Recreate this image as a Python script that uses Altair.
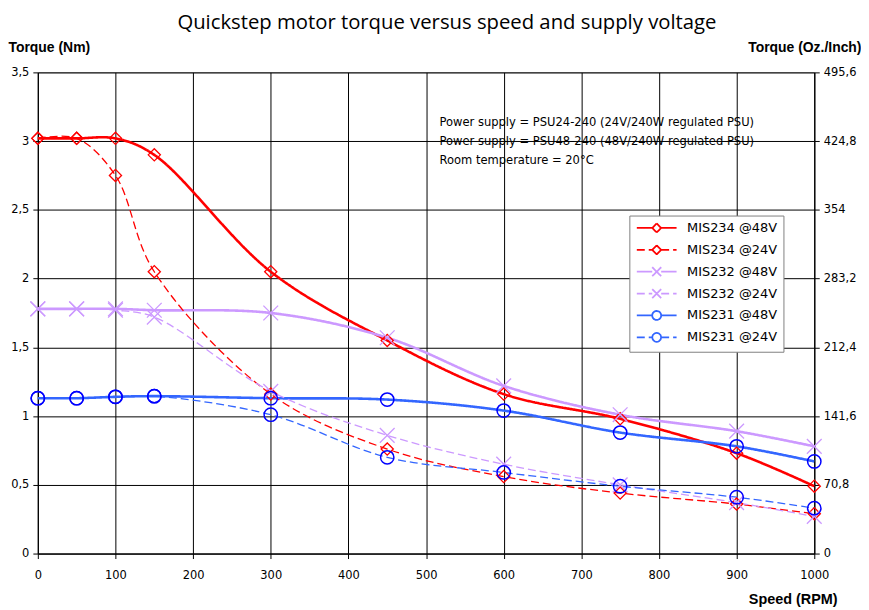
import altair as alt
import pandas as pd

# ---------------- data ----------------
RPM = [0, 50, 100, 150, 300, 450, 600, 750, 900, 1000]

MIS234_48V = [3.02, 3.02, 3.02, 2.90, 2.05, 1.55, 1.16, 0.98, 0.73, 0.49]
MIS234_24V = [3.02, 3.02, 2.75, 2.05, 1.16, 0.76, 0.56, 0.44, 0.36, 0.29]
MIS232_48V = [1.78, 1.78, 1.78, 1.77, 1.75, 1.57, 1.22, 1.01, 0.89, 0.78]
MIS232_24V = [1.78, 1.78, 1.77, 1.72, 1.18, 0.86, 0.65, 0.50, 0.37, 0.27]
MIS231_48V = [1.13, 1.13, 1.14, 1.145, 1.13, 1.12, 1.04, 0.88, 0.78, 0.67]
MIS231_24V = [1.13, 1.13, 1.14, 1.145, 1.01, 0.70, 0.59, 0.49, 0.41, 0.33]

SERIES = ["MIS234 @48V", "MIS234 @24V", "MIS232 @48V",
          "MIS232 @24V", "MIS231 @48V", "MIS231 @24V"]
SERIES_VALUES = [MIS234_48V, MIS234_24V, MIS232_48V,
                 MIS232_24V, MIS231_48V, MIS231_24V]
MOTORS = ["MIS234", "MIS234", "MIS232", "MIS232", "MIS231", "MIS231"]
VOLTAGES = ["48V", "24V", "48V", "24V", "48V", "24V"]

X_TICKS = [0, 100, 200, 300, 400, 500, 600, 700, 800, 900, 1000]
LEFT_TICKS = [0, 0.5, 1, 1.5, 2, 2.5, 3, 3.5]
RIGHT_TICKS = [0, 70.8, 141.6, 212.4, 283.2, 354, 424.8, 495.6]

ANNOTATION = [
    "Power supply = PSU24-240 (24V/240W regulated PSU)",
    "Power supply = PSU48-240 (48V/240W regulated PSU)",
    "Room temperature = 20°C",
]

TITLE = "Quickstep motor torque versus speed and supply voltage"

# ---------------- styles ----------------
LINE_COLORS = ["#FF0000", "#FF0000", "#CC99FF", "#CC99FF", "#3366FF", "#3366FF"]
DASHES = [[1, 0], [8, 4], [1, 0], [8, 4], [1, 0], [8, 4]]

# legend symbols: short line segment + marker (marker split in short sub-paths
# so that the dash pattern does not break it)
DIAMOND_L = ("M-1,0H2.1M3.9,0H7"
             "M3,-0.9L3.9,0M3.9,0L3,0.9M3,0.9L2.1,0M2.1,0L3,-0.9")
CROSS_L = ("M-1,0H2.1M3.9,0H7"
           "M3,0L3.9,-0.9M3,0L3.9,0.9M3,0L2.1,0.9M3,0L2.1,-0.9")
CIRCLE_L = ("M-1,0H2.1M3.9,0H7"
            "M3.9,0A0.9,0.9 0 0,1 3.45,0.779"
            "M3.45,0.779A0.9,0.9 0 0,1 2.55,0.779"
            "M2.55,0.779A0.9,0.9 0 0,1 2.1,0"
            "M2.1,0A0.9,0.9 0 0,1 2.55,-0.779"
            "M2.55,-0.779A0.9,0.9 0 0,1 3.45,-0.779"
            "M3.45,-0.779A0.9,0.9 0 0,1 3.9,0")
LEGEND_SHAPES = [DIAMOND_L, DIAMOND_L, CROSS_L, CROSS_L, CIRCLE_L, CIRCLE_L]
X_SHAPE = "M-1,-1L1,1M-1,1L1,-1"

TICK_FONT = "DejaVu Sans"
TITLE_FONT = "Liberation Sans"

rows = []
for name, motor, volt, vals in zip(SERIES, MOTORS, VOLTAGES, SERIES_VALUES):
    for r, v in zip(RPM, vals):
        rows.append({"series": name, "motor": motor, "volt": volt,
                     "rpm": r, "torque": v})
df = pd.DataFrame(rows)

legend_df = pd.DataFrame({"series": SERIES,
                          "rpm": [float("nan")] * len(SERIES),
                          "torque": [float("nan")] * len(SERIES)})

comma_expr = "replace(format(datum.value, '~f'), '.', ',')"

x_enc = alt.X(
    "rpm:Q",
    scale=alt.Scale(domain=[0, 1000], nice=False),
    axis=alt.Axis(values=X_TICKS, format="d", title="Speed (RPM)", grid=True,
                  gridColor="#000000", gridWidth=1, domainColor="#000000",
                  tickColor="#000000", tickSize=5, labelPadding=11,
                  labelFlush=False,
                  labelFont=TICK_FONT, labelFontSize=11.5, labelColor="#000000",
                  titleFont=TITLE_FONT, titleFontSize=14.5, titleFontWeight="bold",
                  titleColor="#000000", titleAlign="right", titleAnchor="end",
                  titleBaseline="middle", titleX=804, titleY=46),
)
y_enc = alt.Y(
    "torque:Q",
    scale=alt.Scale(domain=[0, 3.5], nice=False),
    axis=alt.Axis(values=LEFT_TICKS, labelExpr=comma_expr,
                  title="Torque (Nm)", grid=True, gridColor="#000000",
                  gridWidth=1, domainColor="#000000", tickColor="#000000",
                  tickSize=5, labelPadding=4, labelFlush=False,
                  labelFont=TICK_FONT,
                  labelFontSize=11.5, labelColor="#000000",
                  titleFont=TITLE_FONT, titleFontSize=14,
                  titleFontWeight="bold", titleColor="#000000", titleAngle=0,
                  titleAlign="left", titleBaseline="middle", titleX=-30,
                  titleY=-25),
)

color_scale = alt.Scale(domain=SERIES, range=LINE_COLORS)
dash_scale = alt.Scale(domain=SERIES, range=DASHES)
shape_scale = alt.Scale(domain=SERIES, range=LEGEND_SHAPES)


def leg():
    return alt.Legend(title=None)


base = alt.Chart(df)

solid_lines = base.transform_filter(alt.datum.volt == "48V").mark_line(
    interpolate="catmull-rom", strokeWidth=2.6
).encode(
    x=x_enc, y=y_enc,
    color=alt.Color("series:N", scale=color_scale, legend=leg()),
    strokeDash=alt.StrokeDash("series:N", scale=dash_scale, legend=leg()),
    order=alt.Order("rpm:Q"),
)

dashed_lines = base.transform_filter(alt.datum.volt == "24V").mark_line(
    interpolate="catmull-rom", strokeWidth=1.3
).encode(
    x=x_enc, y=y_enc,
    color=alt.Color("series:N", scale=color_scale, legend=leg()),
    strokeDash=alt.StrokeDash("series:N", scale=dash_scale, legend=leg()),
    order=alt.Order("rpm:Q"),
)

diamonds = base.transform_filter(alt.datum.motor == "MIS234").mark_point(
    shape="diamond", filled=False, size=150, strokeWidth=1.3, color="#FF0000", opacity=1
).encode(x=x_enc, y=y_enc)

crosses = base.transform_filter(alt.datum.motor == "MIS232").mark_point(
    shape=X_SHAPE, filled=False, size=220, strokeWidth=1.3, color="#CC99FF", opacity=1
).encode(x=x_enc, y=y_enc)

circles = base.transform_filter(alt.datum.motor == "MIS231").mark_point(
    shape="circle", filled=False, size=180, strokeWidth=1.5, color="#0000FF", opacity=1
).encode(x=x_enc, y=y_enc)

legend_layer = alt.Chart(legend_df).mark_point(
    filled=False, size=144, opacity=1, invalid="filter"
).encode(
    x=x_enc, y=y_enc,
    color=alt.Color("series:N", scale=color_scale, legend=leg()),
    shape=alt.Shape("series:N", scale=shape_scale, legend=leg()),
    strokeDash=alt.StrokeDash("series:N", scale=dash_scale, legend=leg()),
)

note = alt.Chart(pd.DataFrame({"k": [0]})).mark_text(
    align="left", baseline="top", font=TICK_FONT, fontSize=11.6,
    lineHeight=19, color="#000000"
).encode(x=alt.value(404), y=alt.value(45), text=alt.value(ANNOTATION))

main = alt.layer(solid_lines, dashed_lines, diamonds, crosses, circles,
                 legend_layer, note)

right = alt.Chart(pd.DataFrame({"oz": RIGHT_TICKS})).mark_tick(opacity=0).encode(
    y=alt.Y("oz:Q", scale=alt.Scale(domain=[0, 495.6], nice=False),
            axis=alt.Axis(orient="right", values=RIGHT_TICKS, labelExpr=comma_expr,
                          title="Torque (Oz./Inch)", grid=False,
                          domainColor="#000000", tickColor="#000000", tickSize=5,
                          labelPadding=4, labelFlush=False,
                          labelFont=TICK_FONT, labelFontSize=11.5,
                          labelColor="#000000", titleFont=TITLE_FONT,
                          titleFontSize=14, titleFontWeight="bold",
                          titleColor="#000000", titleAngle=0, titleAlign="right",
                          titleBaseline="middle", titleX=47, titleY=-25))
)

chart = alt.layer(main, right).resolve_scale(y="independent").properties(
    width=781, height=484,
    padding={"left": 0, "top": 3, "right": 0, "bottom": 0},
    title=alt.TitleParams(TITLE, font="Open Sans", fontSize=20.4,
                          fontWeight="normal", color="#000000",
                          anchor="middle", dx=21, offset=7),
).configure(background="#FFFFFF").configure_view(
    stroke="#808080", strokeWidth=1
).configure_legend(
    orient="none", legendX=595, legendY=144, padding=6,
    fillColor="#FFFFFF", strokeColor="#808080",
    labelFont=TICK_FONT, labelFontSize=13, labelColor="#000000",
    labelOffset=39, rowPadding=5, symbolFillColor="transparent",
    symbolStrokeWidth=1.8, symbolOpacity=1,
)

chart.save("out.html", embed_options={"renderer": "svg", "actions": False})
